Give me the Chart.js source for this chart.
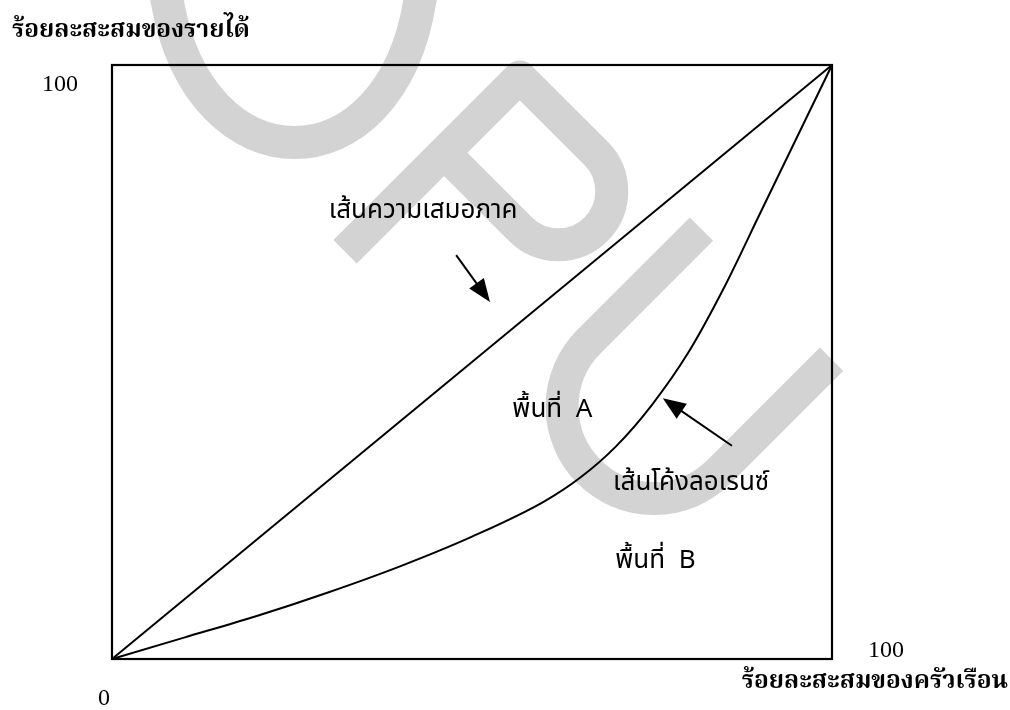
<!DOCTYPE html>
<html>
<head>
<meta charset="utf-8">
<script src="https://cdn.jsdelivr.net/npm/chart.js@4/dist/chart.umd.min.js"></script>
<style>
body { margin: 0; background: #fff; }
#wrap { width: 1010px; height: 710px; }
</style>
</head>
<body>
<div id="wrap"><canvas id="lorenzChart"></canvas></div>
<script>

/* Cumulative share of households (x) and of income (y) */
let householdShare = [0, 10, 20, 30, 40, 50, 60, 65, 70, 75, 80, 85, 90, 95, 100];
let incomeShare = [0, 3.6, 7.2, 11.2, 15.6, 20.6, 26.5, 30.5, 35.8, 42.8, 51.5, 62.5, 75, 87.5, 100];

/* The line of perfect equality */
let equalityShare = [0, 100];

let tickValues = [0, 100];
let xTitle = "ร้อยละสะสมของครัวเรือน";
let yTitle = "ร้อยละสะสมของรายได้";
let noteTexts = ["เส้นความเสมอภาค", "พื้นที่  A", "เส้นโค้งลอเรนซ์", "พื้นที่  B"];

/* where the notes and arrows sit, in chart units */
let noteSpots = [[30.1, 74.2], [55.6, 40.7], [69.6, 28.5], [69.9, 15.3]];
let arrowSpots = [
    { from: [47.8, 68.0], to: [52.5, 60.1] },
    { from: [86.1, 35.9], to: [76.5, 43.9] }
];

let titleFont = "bold 24.5px 'Noto Serif Thai', 'Liberation Serif', serif";
let noteFont = "26px 'Noto Sans Thai', 'Noto Sans', sans-serif";
let tickFont = "24px 'Liberation Serif', serif";


function drawWatermark(ctx) {
    ctx.save();
    ctx.strokeStyle = "#d3d3d3";
    ctx.lineWidth = 33;
    ctx.lineJoin = "round";

    // D, only its bowl is inside the page
    ctx.beginPath();
    ctx.moveTo(158, -50);
    ctx.lineTo(167, 0);
    ctx.bezierCurveTo(200, 190, 390, 190, 420, 0);
    ctx.lineTo(430, -50);
    ctx.stroke();

    // P and U along a 45 degree baseline
    ctx.rotate(Math.PI / 4);
    ctx.beginPath();
    ctx.moveTo(422, -66);
    ctx.lineTo(422, -313);
    ctx.lineTo(530, -313);
    ctx.arc(530, -259.5, 53.5, -Math.PI / 2, Math.PI / 2);
    ctx.lineTo(422, -206);
    ctx.stroke();

    ctx.beginPath();
    ctx.moveTo(658, -334);
    ctx.lineTo(658, -175);
    ctx.arc(750, -175, 92, Math.PI, 0, true);
    ctx.lineTo(842, -334);
    ctx.stroke();
    ctx.restore();
}

function drawArrow(ctx, x1, y1, x2, y2) {
    let ang = Math.atan2(y2 - y1, x2 - x1);
    let len = 23, half = 9;
    ctx.beginPath();
    ctx.moveTo(x1, y1);
    ctx.lineTo(x2 - Math.cos(ang) * len * 0.8, y2 - Math.sin(ang) * len * 0.8);
    ctx.lineWidth = 2;
    ctx.stroke();
    ctx.beginPath();
    ctx.moveTo(x2, y2);
    ctx.lineTo(x2 - Math.cos(ang) * len - Math.sin(ang) * half, y2 - Math.sin(ang) * len + Math.cos(ang) * half);
    ctx.lineTo(x2 - Math.cos(ang) * len + Math.sin(ang) * half, y2 - Math.sin(ang) * len - Math.cos(ang) * half);
    ctx.closePath();
    ctx.fill();
}

let paperPlugin = {
    id: "paper",
    beforeDatasetsDraw: function(chart) {
        let ctx = chart.ctx;
        let a = chart.chartArea;
        drawWatermark(ctx);
        ctx.save();
        ctx.strokeStyle = "#000";
        ctx.lineWidth = 2.2;
        ctx.strokeRect(a.left, a.top, a.right - a.left, a.bottom - a.top);
        ctx.restore();
    },
    afterDatasetsDraw: function(chart) {
        let ctx = chart.ctx;
        let a = chart.chartArea;
        let xs = chart.scales.x, ys = chart.scales.y;
        ctx.save();
        ctx.fillStyle = "#000";
        ctx.strokeStyle = "#000";
        ctx.textBaseline = "alphabetic";

        // axis titles
        ctx.font = titleFont;
        ctx.textAlign = "left";
        ctx.fillText(yTitle, 12, a.top - 28);
        ctx.textAlign = "right";
        ctx.fillText(xTitle, a.right + 176, a.bottom + 29);

        // the three tick numbers
        ctx.font = tickFont;
        ctx.textAlign = "right";
        ctx.fillText(String(tickValues[1]), xs.getPixelForValue(tickValues[0]) - 34, ys.getPixelForValue(tickValues[1]) + 26);
        ctx.textAlign = "left";
        ctx.fillText(String(tickValues[1]), xs.getPixelForValue(tickValues[1]) + 36, ys.getPixelForValue(tickValues[0]) - 2);
        ctx.fillText(String(tickValues[0]), xs.getPixelForValue(tickValues[0]) - 14, ys.getPixelForValue(tickValues[0]) + 46);

        // notes and arrows
        ctx.font = noteFont;
        noteTexts.forEach(function(t, i) {
            ctx.fillText(t, xs.getPixelForValue(noteSpots[i][0]), ys.getPixelForValue(noteSpots[i][1]));
        });
        arrowSpots.forEach(function(s) {
            drawArrow(ctx,
                xs.getPixelForValue(s.from[0]), ys.getPixelForValue(s.from[1]),
                xs.getPixelForValue(s.to[0]), ys.getPixelForValue(s.to[1]));
        });
        ctx.restore();
    }
};

let ctx = document.getElementById("lorenzChart").getContext("2d");

let lorenzChart = new Chart(ctx, {
    type: "line",
    data: {
        datasets: [
            {
                label: "เส้นความเสมอภาค",
                data: equalityShare.map(function(v) { return { x: v, y: v }; }),
                borderColor: "#000",
                borderWidth: 2,
                pointRadius: 0,
                clip: 4
            },
            {
                label: "เส้นโค้งลอเรนซ์",
                data: householdShare.map(function(v, i) { return { x: v, y: incomeShare[i] }; }),
                borderColor: "#000",
                borderWidth: 2,
                pointRadius: 0,
                cubicInterpolationMode: "monotone",
                clip: 4
            }
        ]
    },
    options: {
        responsive: true,
        maintainAspectRatio: false,
        animation: false,
        layout: { padding: { left: 112, top: 65, right: 178, bottom: 51 } },
        scales: {
            x: { type: "linear", min: 0, max: 100, display: false },
            y: { type: "linear", min: 0, max: 100, display: false }
        },
        plugins: {
            legend: { display: false },
            tooltip: { enabled: false }
        }
    },
    plugins: [paperPlugin]
});
</script>
</body>
</html>
